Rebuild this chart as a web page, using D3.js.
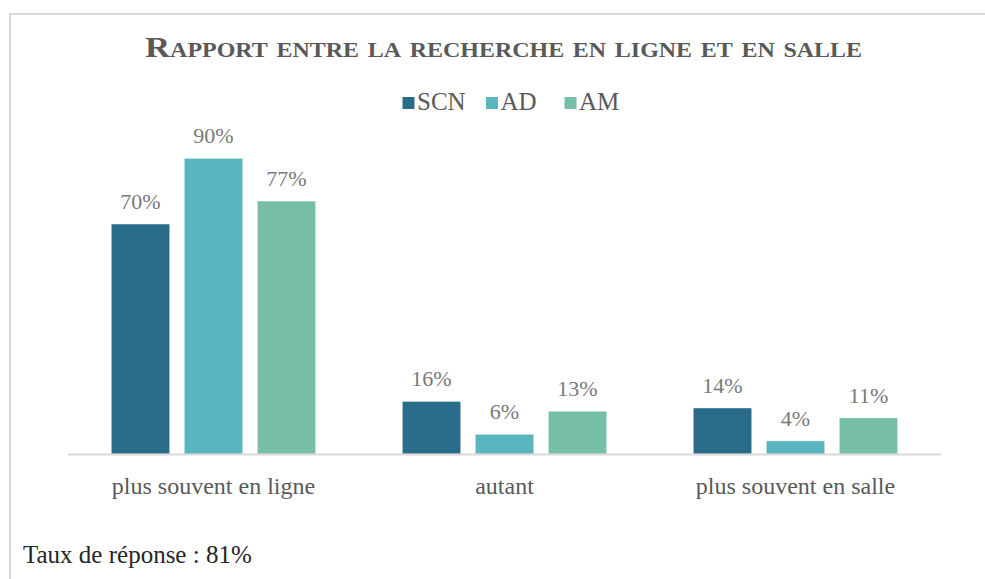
<!DOCTYPE html>
<html>
<head>
<meta charset="utf-8">
<script src="https://cdn.jsdelivr.net/npm/d3@7/dist/d3.min.js"></script>
<style>
  html, body { margin: 0; padding: 0; background: #fff; }
  svg, svg text { font-family: "Liberation Serif", "Times New Roman", Times, Tinos, "DejaVu Serif", "Noto Serif", serif; }
  svg { display: block; }
</style>
</head>
<body>
<svg id="chart" width="985" height="579"></svg>
<script>
const categories = ["plus souvent en ligne", "autant", "plus souvent en salle"];
const seriesNames = ["SCN", "AD", "AM"];
const SCN = [70, 16, 14];
const AD = [90, 6, 4];
const AM = [77, 13, 11];
const colors = ["#286c89", "#59b5c0", "#76bea7"];
const title = "Rapport entre la recherche en ligne et en salle";
const footnote = "Taux de réponse : 81%";

const seriesValues = [SCN, AD, AM];
const svg = d3.select("#chart");
const FONT = '"Liberation Serif", "Times New Roman", Times, Tinos, "DejaVu Serif", serif';

// frame
svg.append("path")
  .attr("d", "M10,600 L10,14 L1000,14")
  .attr("fill", "none").attr("stroke", "#d9d9d9").attr("stroke-width", 2);

const x0 = d3.scaleBand().domain(categories).range([68, 941]).padding(0);
const innerW = 219;
const x1 = d3.scaleBand().domain(seriesNames)
  .range([(x0.bandwidth() - innerW) / 2, (x0.bandwidth() + innerW) / 2])
  .paddingInner(0.2).paddingOuter(0.1);
const y = d3.scaleLinear().domain([0, 100]).range([454, 125.5]);

// title
svg.append("text")
  .attr("x", 145).attr("y", 57)
  .attr("textLength", 717).attr("lengthAdjust", "spacingAndGlyphs")
  .style("font-family", FONT)
  .style("font-variant", "small-caps")
  .style("font-size", "29px").style("font-weight", "bold")
  .attr("fill", "#595959")
  .text(title);

// legend
const legendPos = [{sq: 402.5, tx: 417}, {sq: 486, tx: 500.5}, {sq: 564.5, tx: 579}];
seriesNames.forEach((s, i) => {
  svg.append("rect").attr("x", legendPos[i].sq).attr("y", 97)
    .attr("width", 12).attr("height", 12).attr("fill", colors[i]);
  svg.append("text").attr("x", legendPos[i].tx).attr("y", 110)
    .style("font-family", FONT)
    .style("font-size", "25px").attr("fill", "#595959").text(s);
});

// bars
const g = svg.append("g");
categories.forEach((c, ci) => {
  const grp = g.append("g").attr("transform", `translate(${x0(c)},0)`);
  seriesNames.forEach((s, si) => {
    const v = seriesValues[si][ci];
    grp.append("rect")
      .attr("x", x1(s)).attr("y", y(v))
      .attr("width", x1.bandwidth()).attr("height", y(0) - y(v))
      .attr("fill", colors[si])
      .attr("stroke", "rgba(255,255,255,0.5)").attr("stroke-width", 0.8);
    grp.append("text")
      .attr("x", x1(s) + x1.bandwidth() / 2).attr("y", y(v) - 15)
      .attr("text-anchor", "middle")
      .style("font-family", FONT)
      .style("font-size", "22px").attr("fill", "#7a7a7a")
      .text(v + "%");
  });
});

// axis
const xAxis = d3.axisBottom(x0).tickSize(0).tickPadding(0);
const ax = svg.append("g").attr("transform", "translate(0,454)").call(xAxis);
ax.attr("font-family", null).attr("font-size", null);
ax.select(".domain").attr("stroke", "#d9d9d9").attr("stroke-width", 2)
  .attr("d", "M68,0.5H941");
ax.selectAll(".tick text")
  .attr("y", 40).attr("dy", 0)
  .style("font-size", "24px").style("font-family", FONT)
  .attr("fill", "#595959");

// footnote
svg.append("text").attr("x", 23).attr("y", 563)
  .style("font-family", FONT)
  .style("font-size", "25px").attr("fill", "#262626").text(footnote);
</script>
</body>
</html>
